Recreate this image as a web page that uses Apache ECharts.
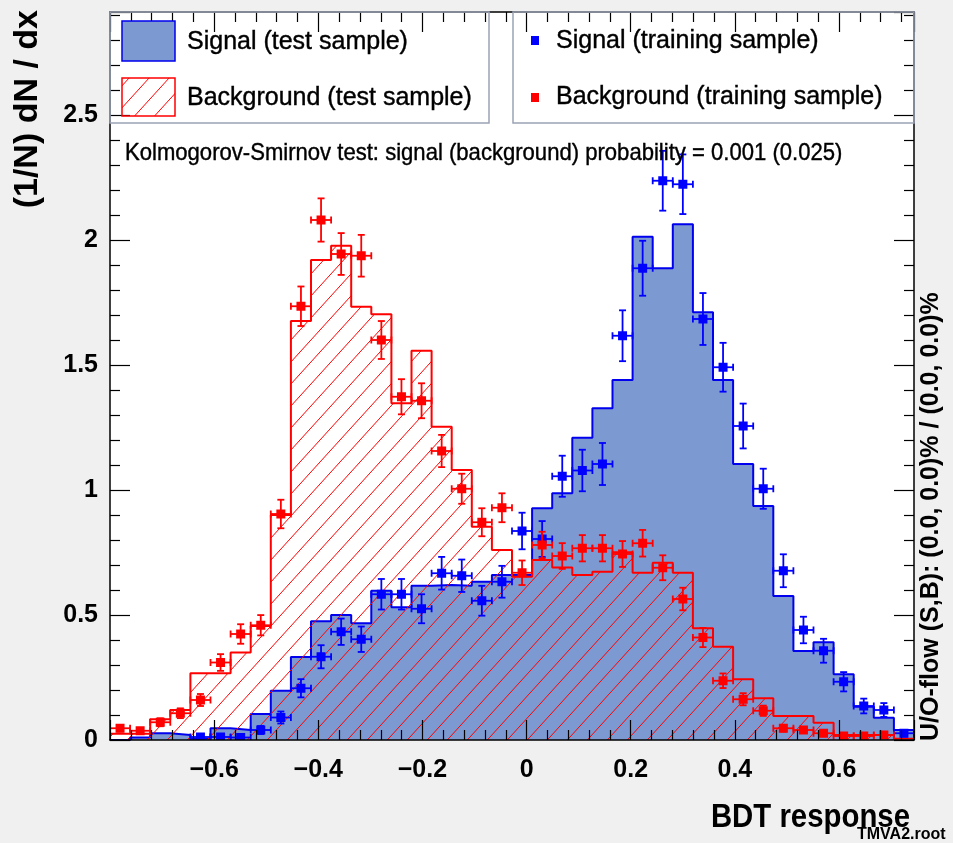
<!DOCTYPE html>
<html>
<head>
<meta charset="utf-8">
<title>TMVA overtraining check - BDT response</title>
<script src="https://cdn.jsdelivr.net/npm/echarts@6/dist/echarts.min.js"></script>
<style>
  html, body { margin: 0; padding: 0; background: #f0f0f0; }
  #main { width: 953px; height: 843px; }
</style>
</head>
<body>
<div id="main"></div>
<script>
// binning of the BDT output histograms
const xMin = -0.8;
const xMax = 0.744;
const nBins = 40;
const yMax = 2.912;

// normalised test-sample histograms, one value per bin
const sigTest = [0, 0.01, 0.027, 0.02, 0.005, 0.047, 0.04, 0.104, 0.197, 0.332,
  0.475, 0.5, 0.467, 0.597, 0.531, 0.617, 0.62, 0.617, 0.633, 0.66,
  0.66, 0.927, 0.987, 1.209, 1.327, 1.44, 2.013, 1.887, 2.063, 1.711,
  1.44, 1.104, 0.936, 0.576, 0.356, 0.391, 0.263, 0.133, 0.089, 0.04];
const bkgTest = [0.025, 0.025, 0.083, 0.12, 0.267, 0.267, 0.35, 0.456, 0.9, 1.676,
  1.92, 1.977, 1.733, 1.703, 1.347, 1.557, 1.253, 1.08, 0.853, 0.76,
  0.653, 0.72, 0.69, 0.66, 0.673, 0.751, 0.669, 0.709, 0.669, 0.447,
  0.373, 0.243, 0.167, 0.096, 0.096, 0.069, 0.02, 0.02, 0.02, 0.005];

// training-sample points (null = empty bin, no marker)
const sigTrain = [null, null, null, null, 0.012, 0.012, 0.01, 0.04, 0.09, 0.207,
  0.333, 0.433, 0.403, 0.583, 0.583, 0.525, 0.667, 0.657, 0.557, 0.633,
  0.836, 0.804, 1.055, 1.078, 1.104, 1.617, 1.887, 2.237, 2.223, 1.684,
  1.491, 1.256, 1.005, 0.677, 0.44, 0.357, 0.233, 0.136, 0.12, 0.027];
const bkgTrain = [0.047, 0.037, 0.071, 0.107, 0.16, 0.31, 0.424, 0.459, 0.904, 1.735,
  2.08, 1.944, 1.937, 1.6, 1.373, 1.357, 1.156, 1.005, 0.871, 0.929,
  0.669, 0.78, 0.736, 0.767, 0.767, 0.744, 0.787, 0.689, 0.564, 0.41,
  0.237, 0.163, 0.117, 0.047, 0.04, 0.027, 0.016, 0.016, 0.02, null];

// statistical error ~ scale * sqrt(content) for the normalised histograms
const sigErrScale = 0.08;
const bkgErrScale = 0.06;

const ksText = 'Kolmogorov-Smirnov test: signal (background) probability = 0.001 (0.025)';
const flowText = 'U/O-flow (S,B): (0.0, 0.0)% / (0.0, 0.0)%';

const FONT = "'Liberation Sans', Arial, Helvetica, sans-serif";
const SIG_FILL = '#7d99d1';
const SIG_LINE = '#0000ee';
const BKG_LINE = '#ff0000';

const binW = (xMax - xMin) / nBins;

// red /// hatch used for the background histogram
function makeHatch() {
  const w = 20, h = 22;
  const cv = document.createElement('canvas');
  cv.width = w;
  cv.height = h;
  const ctx = cv.getContext('2d');
  ctx.strokeStyle = BKG_LINE;
  ctx.lineWidth = 1;
  ctx.beginPath();
  for (let k = -1; k <= 1; k++) {
    ctx.moveTo(k * w, h);
    ctx.lineTo(k * w + w, 0);
  }
  ctx.stroke();
  return cv;
}
const hatch = { image: makeHatch(), repeat: 'repeat' };

// step outline of a histogram: two vertices per bin
function stepPoints(vals) {
  const pts = [];
  vals.forEach((v, i) => {
    pts.push([xMin + i * binW, v]);
    pts.push([xMin + (i + 1) * binW, v]);
  });
  return pts;
}

function pointData(vals) {
  const out = [];
  vals.forEach((v, i) => {
    if (v != null) out.push([xMin + (i + 0.5) * binW, v]);
  });
  return out;
}

// ROOT style E1 error bars with a square marker
function errorBars(color, errScale) {
  return function (params, api) {
    const x = api.value(0);
    const y = api.value(1);
    const err = errScale * Math.sqrt(y);
    const c = api.coord([x, y]);
    const l = api.coord([x - binW / 2, y]);
    const r = api.coord([x + binW / 2, y]);
    const t = api.coord([x, y + err]);
    const b = api.coord([x, Math.max(0, y - err)]);
    const cap = 3.5;
    const st = () => ({ stroke: color, lineWidth: 1.8 });
    return {
      type: 'group',
      children: [
        { type: 'line', shape: { x1: l[0], y1: c[1], x2: r[0], y2: c[1] }, style: st() },
        { type: 'line', shape: { x1: c[0], y1: t[1], x2: c[0], y2: b[1] }, style: st() },
        { type: 'line', shape: { x1: c[0] - cap, y1: t[1], x2: c[0] + cap, y2: t[1] }, style: st() },
        { type: 'line', shape: { x1: c[0] - cap, y1: b[1], x2: c[0] + cap, y2: b[1] }, style: st() },
        { type: 'line', shape: { x1: l[0], y1: c[1] - cap, x2: l[0], y2: c[1] + cap }, style: st() },
        { type: 'line', shape: { x1: r[0], y1: c[1] - cap, x2: r[0], y2: c[1] + cap }, style: st() },
        { type: 'rect', shape: { x: c[0] - 4.5, y: c[1] - 4.5, width: 9, height: 9 }, style: { fill: color } }
      ]
    };
  };
}

function xAxisDef(pos, labels) {
  return {
    type: 'value', position: pos, min: xMin, max: xMax, interval: 0.2, z: 10,
    axisLine: { show: true, onZero: false, lineStyle: { color: '#000', width: 1.5 } },
    axisTick: { show: true, inside: true, length: 20, lineStyle: { color: '#000', width: 1.2 } },
    minorTick: { show: true, splitNumber: 5, length: 10, lineStyle: { color: '#000', width: 1.2 } },
    splitLine: { show: false },
    minorSplitLine: { show: false },
    axisLabel: {
      show: labels, margin: 18, fontSize: 25, fontWeight: 'bold', fontFamily: FONT, color: '#000',
      showMinLabel: false, showMaxLabel: false,
      formatter: v => (v < 0 ? '\u2212' + Math.abs(v) : String(v))
    }
  };
}

function yAxisDef(pos, labels) {
  return {
    type: 'value', position: pos, min: 0, max: yMax, interval: 0.5, z: 10,
    axisLine: { show: true, onZero: false, lineStyle: { color: '#000', width: 1.5 } },
    axisTick: { show: true, inside: true, length: 20, lineStyle: { color: '#000', width: 1.2 } },
    minorTick: { show: true, splitNumber: 5, length: 10, lineStyle: { color: '#000', width: 1.2 } },
    splitLine: { show: false },
    minorSplitLine: { show: false },
    axisLabel: {
      show: labels, margin: 12, fontSize: 25, fontWeight: 'bold', fontFamily: FONT, color: '#000',
      showMaxLabel: false
    }
  };
}

function label(text, x, y, size, opts) {
  const o = opts || {};
  return {
    type: 'text', x: x, y: y, z: 30,
    rotation: o.rotation || 0,
    scaleX: o.scaleX || 1,
    style: {
      text: text, fill: '#000', fontSize: size, fontFamily: FONT,
      fontWeight: o.bold ? 'bold' : 'normal',
      stroke: o.bold ? null : '#000', lineWidth: o.bold ? 0 : 0.4,
      align: o.align || 'left', textAlign: o.align || 'left',
      verticalAlign: 'middle', textVerticalAlign: 'middle'
    }
  };
}

const chart = echarts.init(document.getElementById('main'), null, { renderer: 'canvas' });

const option = {
  backgroundColor: '#f0f0f0',
  animation: false,
  grid: { left: 110, top: 12, width: 804, height: 728, show: true, backgroundColor: '#fff', borderWidth: 0, containLabel: false },
  xAxis: [xAxisDef('bottom', true), xAxisDef('top', false)],
  yAxis: [yAxisDef('left', true), yAxisDef('right', false)],
  series: [
    {
      name: 'Signal (test sample)', type: 'line', data: stepPoints(sigTest),
      symbol: 'none', silent: true, z: 2,
      lineStyle: { color: SIG_LINE, width: 2 },
      areaStyle: { color: SIG_FILL, opacity: 1 },
      emphasis: { disabled: true }
    },
    {
      name: 'Background (test sample)', type: 'line', data: stepPoints(bkgTest),
      symbol: 'none', silent: true, z: 3,
      lineStyle: { color: BKG_LINE, width: 2 },
      areaStyle: { color: hatch, opacity: 1 },
      emphasis: { disabled: true }
    },
    {
      name: 'Signal (training sample)', type: 'custom', data: pointData(sigTrain),
      renderItem: errorBars('#0000ff', sigErrScale), clip: true, silent: true, z: 4
    },
    {
      name: 'Background (training sample)', type: 'custom', data: pointData(bkgTrain),
      renderItem: errorBars('#ff0000', bkgErrScale), clip: true, silent: true, z: 5
    }
  ],
  graphic: [
    // legend boxes
    { type: 'rect', z: 20, shape: { x: 110, y: 12, width: 379, height: 111 }, style: { fill: 'none', stroke: '#9aa3b5', lineWidth: 1.5 } },
    { type: 'rect', z: 20, shape: { x: 513, y: 12, width: 401, height: 111 }, style: { fill: 'none', stroke: '#9aa3b5', lineWidth: 1.5 } },
    { type: 'rect', z: 21, shape: { x: 122, y: 21, width: 53, height: 40 }, style: { fill: SIG_FILL, stroke: SIG_LINE, lineWidth: 1.5 } },
    { type: 'rect', z: 21, shape: { x: 122, y: 78, width: 53, height: 38 }, style: { fill: hatch, stroke: BKG_LINE, lineWidth: 1.5 } },
    { type: 'rect', z: 21, shape: { x: 531, y: 36, width: 8, height: 9 }, style: { fill: '#0000ff' } },
    { type: 'rect', z: 21, shape: { x: 531, y: 93, width: 8, height: 9 }, style: { fill: '#ff0000' } },
    label('Signal (test sample)', 187, 42, 25),
    label('Background (test sample)', 187, 98, 25),
    label('Signal (training sample)', 556, 41, 25),
    label('Background (training sample)', 556, 97, 25),
    label(ksText, 125, 153, 24, { scaleX: 0.92 }),
    // axis titles and side notes
    label('(1/N) dN / dx', 28, 10, 34, { bold: true, rotation: Math.PI / 2, align: 'right' }),
    label('BDT response', 910, 818, 33, { bold: true, align: 'right', scaleX: 0.89 }),
    label(flowText, 931, 741, 25, { bold: true, rotation: Math.PI / 2 }),
    label('TMVA2.root', 857, 835, 16, { bold: true })
  ]
};

chart.setOption(option);
</script>
</body>
</html>
